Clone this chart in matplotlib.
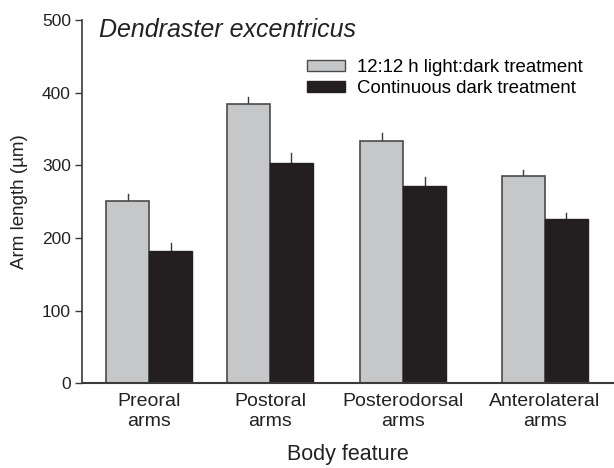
import numpy as np
import matplotlib
matplotlib.use("Agg")
import matplotlib.pyplot as plt
from matplotlib.patches import Patch

plt.rcParams['font.family'] = ['Liberation Sans', 'DejaVu Sans']

features = ["Preoral\narms", "Postoral\narms", "Posterodorsal\narms", "Anterolateral\narms"]
light_dark = [251, 384, 333, 285]
light_dark_err = [10, 10, 12, 9]
cont_dark = [182, 303, 272, 226]
cont_dark_err = [11, 14, 12, 9]

# group centres (uneven in the original figure), in bar-width units
centers = np.array([1.56, 4.37, 7.47, 10.76])
w = 1.0

gray = "#c6c7c9"
black = "#231f20"
edge = "#3a3a3a"

fig = plt.figure(figsize=(6.14, 4.68), dpi=100)
ax = fig.add_axes([82/614, 1 - 383.3/468, 1 - 82/614, (383.3 - 20)/468])

ax.bar(centers - w/2, light_dark, w, color=gray, edgecolor="#4a4a4a", linewidth=1.2, zorder=2)
ax.bar(centers + w/2, cont_dark, w, color=black, edgecolor=black, linewidth=1.0, zorder=2)

# upper error bars only
for x, y, e in zip(centers - w/2, light_dark, light_dark_err):
    ax.plot([x, x], [y, y + e], color=edge, lw=1.0, zorder=1)
for x, y, e in zip(centers + w/2, cont_dark, cont_dark_err):
    ax.plot([x, x], [y, y + e], color=edge, lw=1.0, zorder=1)

ax.set_xlim(0, 532/43)
ax.set_ylim(0, 500)
ax.set_yticks([0, 100, 200, 300, 400, 500])
ax.set_xticks(centers)
ax.set_xticklabels(features, fontsize=14, color="#222222", linespacing=1.25)
ax.tick_params(axis="x", length=0, pad=7)
ax.tick_params(axis="y", length=5, width=1.0, color=edge, labelsize=12.5, labelcolor="#222222", pad=3)

for s in ["top", "right"]:
    ax.spines[s].set_visible(False)
ax.spines["left"].set_color(edge)
ax.spines["left"].set_linewidth(1.2)
ax.spines["bottom"].set_color(edge)
ax.spines["bottom"].set_linewidth(1.5)

ax.set_ylabel("Arm length (µm)", fontsize=13.5, color="#222222")
ax.yaxis.set_label_coords(-(82 - 28)/532, 0.5)
ax.set_xlabel("Body feature", fontsize=15.5, color="#222222", labelpad=10)

ax.text(99/614, 1 - 37/468, "Dendraster excentricus", transform=fig.transFigure,
        fontsize=18, style="italic", color="#222222", ha="left", va="baseline")

handles = [Patch(facecolor=gray, edgecolor="#4a4a4a", linewidth=1.0),
           Patch(facecolor=black, edgecolor=black, linewidth=1.0)]
ax.legend(handles, ["12:12 h light:dark treatment", "Continuous dark treatment"],
          loc="upper left", bbox_to_anchor=(307/614, 1 - 59/468), bbox_transform=fig.transFigure,
          frameon=False, fontsize=13.4, handlelength=2.05, handleheight=0.55,
          handletextpad=0.62, labelspacing=0.2, borderpad=0, borderaxespad=0)

fig.savefig("out.png", dpi=100)
